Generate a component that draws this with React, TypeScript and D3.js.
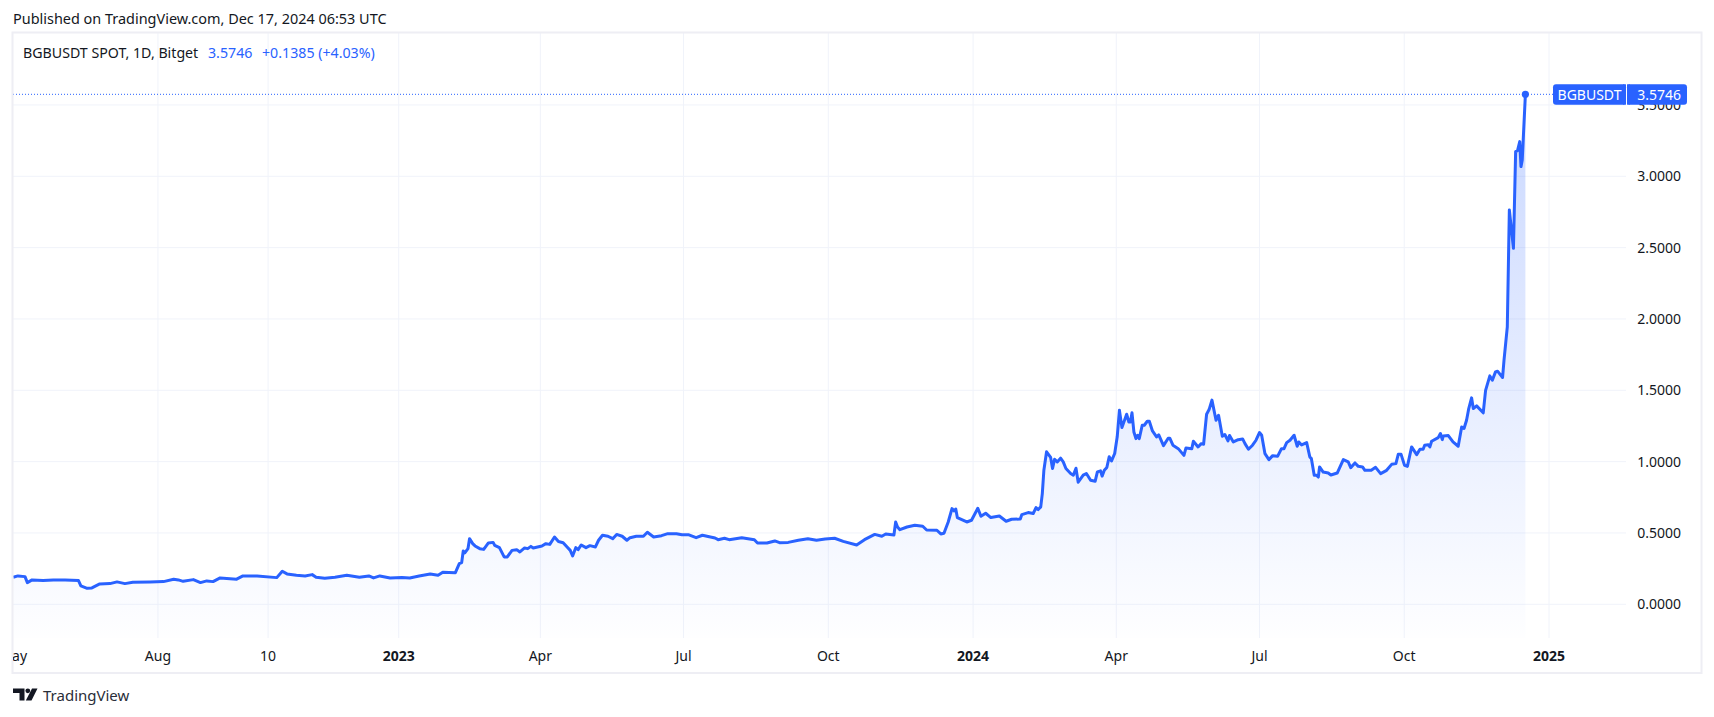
import React from "react";
import * as d3 from "d3";

const WIDTH = 1714;
const HEIGHT = 717;

const headerText = "Published on TradingView.com, Dec 17, 2024 06:53 UTC";
const symbolText = "BGBUSDT SPOT, 1D, Bitget";
const lastText = "3.5746";
const changeText = "+0.1385 (+4.03%)";
const tagName = "BGBUSDT";
const lastPrice = 3.5746;

// days counted from the first bar, 2022-05-01
const startDate = new Date(2022, 4, 1);

const days = [
  0, 3, 7.5, 9, 12, 19, 25.5, 33, 41.5, 43, 47, 50, 55, 61.5, 66, 71, 76, 87, 95.5, 102, 105, 108, 114.5, 119, 123, 127,
  131.5, 142, 146, 155, 167.5, 171, 174, 180, 185.5, 190, 192.5, 198, 204.5, 212, 220, 226, 229, 233, 239.5, 247, 252,
  258, 265, 270, 273, 281, 283.5, 285, 286, 287, 289, 290, 292, 293.5, 296.5, 299, 302, 305, 306, 309, 312, 314, 317,
  320, 322, 325, 327, 329, 330.5, 336, 338.5, 341, 344, 346.5, 349.5, 352, 354, 355.5, 357.5, 359, 361, 364, 366.5, 370,
  372, 374.5, 378, 381, 383.5, 387, 390, 392, 396, 400.5, 403, 407, 412, 416, 421.5, 425, 429, 434, 438, 446, 448, 452,
  455, 463, 467, 471, 473, 479, 484, 487, 492.5, 499, 505, 510.5, 516, 522, 527.5, 536, 541, 547.5, 552, 554.5, 559.7,
  560.8, 562, 563.5, 568, 573, 578, 580.5, 587, 589.5, 591.5, 594.2, 596.6, 598, 599, 600, 606, 609, 613, 615, 618,
  621.3, 626.7, 631, 634.5, 640, 641, 645, 648.2, 650, 651.4, 653, 654, 655, 656.7, 659.3, 660.5, 661.8, 663.5, 665.6,
  667.3, 669, 672, 673.7, 675.4, 676.8, 680, 682, 684.7, 687.6, 689, 691, 692, 693.4, 695, 696.5, 698, 700, 701.6, 703,
  704.6, 707.6, 709, 710, 711, 712.2, 713.5, 714.6, 715.6, 717.5, 718.8, 720.7, 722, 724, 726.6, 728, 731, 734, 735,
  737, 740.4, 744, 745.3, 749, 750, 753, 755, 756.5, 758.4, 760, 761.8, 764.4, 766, 768.4, 770, 772, 773, 775.4, 778.5,
  781.3, 782.8, 785, 787.6, 789.8, 792, 793.4, 795.5, 798, 800.4, 803.5, 806, 807.6, 809.3, 811.4, 814, 816, 817, 818.8,
  822, 824, 825, 826.8, 828.3, 829.4, 830.2, 832.5, 835.7, 837.4, 841.4, 845.3, 848.4, 850, 852.7, 854.8, 857.5, 859,
  863, 865.8, 869, 872.8, 876, 878.7, 880.2, 882, 884.2, 886, 888.7, 891.9, 894, 896, 897, 899.3, 900.3, 901.4, 905.6,
  907, 908.2, 908.8, 912, 915, 918.3, 920.5, 922, 923.6, 925, 926.8, 927.9, 930, 934.2, 935.7, 938.4, 940, 942, 943.3,
  946.5, 947.4, 949.5, 950.8, 953.4, 954.8, 956, 957.4, 958.2, 959, 961,
];

const prices = [
  0.19, 0.199, 0.194, 0.152, 0.171, 0.166, 0.171, 0.171, 0.166, 0.129, 0.112, 0.115, 0.143, 0.145, 0.157, 0.145, 0.154,
  0.157, 0.159, 0.176, 0.171, 0.161, 0.173, 0.152, 0.164, 0.159, 0.185, 0.176, 0.199, 0.199, 0.187, 0.232, 0.213, 0.204,
  0.199, 0.208, 0.19, 0.183, 0.19, 0.204, 0.19, 0.199, 0.185, 0.199, 0.185, 0.187, 0.185, 0.198, 0.212, 0.203, 0.224,
  0.222, 0.285, 0.292, 0.374, 0.36, 0.39, 0.46, 0.425, 0.409, 0.39, 0.385, 0.43, 0.434, 0.413, 0.397, 0.332, 0.332,
  0.378, 0.383, 0.367, 0.395, 0.39, 0.406, 0.395, 0.409, 0.425, 0.42, 0.472, 0.44, 0.432, 0.402, 0.378, 0.339, 0.397,
  0.383, 0.416, 0.397, 0.411, 0.402, 0.449, 0.484, 0.477, 0.46, 0.49, 0.477, 0.449, 0.467, 0.477, 0.477, 0.505, 0.472,
  0.481, 0.495, 0.495, 0.488, 0.488, 0.467, 0.484, 0.465, 0.453, 0.463, 0.453, 0.467, 0.46, 0.453, 0.43, 0.43, 0.444,
  0.432, 0.434, 0.449, 0.46, 0.449, 0.458, 0.463, 0.441, 0.416, 0.453, 0.49, 0.477, 0.493, 0.486, 0.577, 0.542, 0.523,
  0.542, 0.554, 0.547, 0.521, 0.519, 0.493, 0.498, 0.577, 0.671, 0.654, 0.668, 0.608, 0.577, 0.589, 0.673, 0.617, 0.638,
  0.608, 0.619, 0.582, 0.596, 0.598, 0.629, 0.643, 0.636, 0.678, 0.664, 0.683, 0.776, 0.94, 1.069, 1.029, 0.952, 1.017,
  0.998, 1.024, 0.998, 0.952, 0.917, 0.905, 0.954, 0.856, 0.905, 0.917, 0.87, 0.863, 0.928, 0.935, 0.898, 0.94, 0.959,
  1.034, 1.005, 1.057, 1.174, 1.36, 1.239, 1.332, 1.278, 1.278, 1.342, 1.208, 1.161, 1.185, 1.161, 1.255, 1.255, 1.283,
  1.283, 1.215, 1.173, 1.187, 1.112, 1.164, 1.164, 1.115, 1.091, 1.044, 1.096, 1.091, 1.143, 1.103, 1.126, 1.122, 1.332,
  1.365, 1.431, 1.29, 1.325, 1.178, 1.19, 1.145, 1.183, 1.138, 1.154, 1.159, 1.126, 1.087, 1.115, 1.15, 1.204, 1.185,
  1.056, 1.014, 1.042, 1.037, 1.091, 1.091, 1.133, 1.15, 1.185, 1.108, 1.138, 1.117, 1.133, 1.033, 1.021, 0.904, 0.904,
  0.892, 0.963, 0.927, 0.92, 0.906, 0.92, 1.014, 0.998, 0.958, 0.991, 0.967, 0.963, 0.939, 0.939, 0.96, 0.916, 0.939,
  0.981, 0.986, 1.051, 1.051, 0.974, 0.967, 1.103, 1.049, 1.087, 1.087, 1.115, 1.119, 1.103, 1.143, 1.168, 1.197, 1.154,
  1.18, 1.183, 1.138, 1.108, 1.243, 1.232, 1.29, 1.372, 1.447, 1.372, 1.391, 1.342, 1.5, 1.601, 1.571, 1.629, 1.634,
  1.59, 1.71, 1.945, 2.764, 2.495, 3.173, 3.18, 3.243, 3.068, 3.115, 3.5746,
];

const priceTicks = [0, 0.5, 1, 1.5, 2, 2.5, 3, 3.5];

const timeTickLabels = ["May", "Aug", "10", "2023", "Apr", "Jul", "Oct", "2024", "Apr", "Jul", "Oct", "2025"];
const timeTickDays = [0, 92, 162, 245, 335, 426, 518, 610, 701, 792, 884, 976];
const boldLabels = ["2023", "2024", "2025"];

const BLUE = "#2962ff";
const GRID = "#f0f3fa";
const BORDER = "#eeeef4";
const TEXT = "#131722";
const FONT = "'Noto Sans', sans-serif";

const plot = { left: 13, top: 33, right: 1626, bottom: 638, frameRight: 1701, frameBottom: 672.5 };

const dateOf = (d: number) => new Date(startDate.getTime() + d * 86400000);

const x = d3
  .scaleTime()
  .domain([dateOf(0), dateOf(976)])
  .range([13.2, 1549]);

const y = d3.scaleLinear().domain([0, 3]).range([604.3, 176.3]);

const points = days.map((d, i) => ({ date: dateOf(d), value: prices[i] }));

const linePath = d3
  .line<{ date: Date; value: number }>()
  .x((p) => x(p.date))
  .y((p) => y(p.value))
  .curve(d3.curveLinear)(points) as string;

const areaPath = d3
  .area<{ date: Date; value: number }>()
  .x((p) => x(p.date))
  .y0(plot.bottom)
  .y1((p) => y(p.value))
  .curve(d3.curveLinear)(points) as string;

export default function App() {
  const lastX = x(dateOf(days[days.length - 1]));
  const lastY = y(lastPrice);
  return (
    <svg
      width={WIDTH}
      height={HEIGHT}
      viewBox={`0 0 ${WIDTH} ${HEIGHT}`}
      style={{ position: "absolute", left: 0, top: 0, background: "#fff", fontFamily: FONT }}
    >
      <defs>
        <linearGradient id="areaFill" gradientUnits="userSpaceOnUse" x1="0" x2="0" y1={lastY} y2={plot.bottom}>
          <stop offset="0" stopColor={BLUE} stopOpacity={0.25} />
          <stop offset="1" stopColor={BLUE} stopOpacity={0.005} />
        </linearGradient>
        <clipPath id="frameClip">
          <rect x={plot.left} y={plot.top} width={plot.frameRight - plot.left} height={plot.frameBottom - plot.top} />
        </clipPath>
      </defs>

      <text x={13} y={24} fontSize={14.45} fill={TEXT}>
        {headerText}
      </text>

      {priceTicks.map((t) => (
        <line key={t} x1={plot.left} x2={plot.right} y1={y(t)} y2={y(t)} stroke={GRID} strokeWidth={1} />
      ))}
      {timeTickDays.slice(1).map((d) => (
        <line
          key={d}
          x1={x(dateOf(d))}
          x2={x(dateOf(d))}
          y1={plot.top}
          y2={plot.bottom}
          stroke={GRID}
          strokeWidth={1}
        />
      ))}

      <path d={areaPath} fill="url(#areaFill)" />
      <line
        x1={plot.left}
        x2={1553}
        y1={lastY}
        y2={lastY}
        stroke={BLUE}
        strokeWidth={1}
        strokeDasharray="1 2"
      />
      <path d={linePath} fill="none" stroke={BLUE} strokeWidth={3} strokeLinejoin="round" />
      <circle cx={lastX} cy={lastY} r={3.6} fill={BLUE} />

      <rect
        x={plot.left - 0.5}
        y={plot.top - 0.5}
        width={plot.frameRight - plot.left + 1}
        height={plot.frameBottom - plot.top + 1}
        fill="none"
        stroke={BORDER}
        strokeWidth={2}
      />

      {priceTicks.map((t) => (
        <text key={t} x={1681} y={y(t) + 5} textAnchor="end" fontSize={14} fill={TEXT}>
          {t.toFixed(4)}
        </text>
      ))}

      <g clipPath="url(#frameClip)">
        {timeTickDays.map((d, i) => (
          <text
            key={d}
            x={x(dateOf(d))}
            y={661}
            textAnchor="middle"
            fontSize={14}
            fontWeight={boldLabels.includes(timeTickLabels[i]) ? 700 : 400}
            fill={TEXT}
          >
            {timeTickLabels[i]}
          </text>
        ))}
      </g>

      <text x={23} y={58} fontSize={14.2} fill={TEXT}>
        {symbolText}
      </text>
      <text x={208} y={58} fontSize={14.2} fill={BLUE}>
        {lastText}
      </text>
      <text x={262} y={58} fontSize={14.2} fill={BLUE}>
        {changeText}
      </text>

      <rect x={1553} y={84.3} width={73} height={20.4} rx={3} fill={BLUE} />
      <rect x={1627} y={84.3} width={60} height={20.4} rx={3} fill={BLUE} />
      <rect x={1623} y={84.3} width={3} height={20.4} fill={BLUE} />
      <rect x={1627} y={84.3} width={3} height={20.4} fill={BLUE} />
      <text x={1589.5} y={99.5} textAnchor="middle" fontSize={14} fill="#fff">
        {tagName}
      </text>
      <text x={1681} y={99.5} textAnchor="end" fontSize={14} fill="#fff">
        {lastPrice.toFixed(4)}
      </text>

      <g fill={TEXT}>
        <path d="M13 688.5H24.5V700.5H19.5V693H13Z" />
        <circle cx={27.8} cy={690.8} r={2.4} />
        <path d="M32 688.5H37.5L31.5 700.5H25.8Z" />
      </g>
      <text x={43} y={701} fontSize={15} fill="#2a2e39">
        TradingView
      </text>
    </svg>
  );
}
